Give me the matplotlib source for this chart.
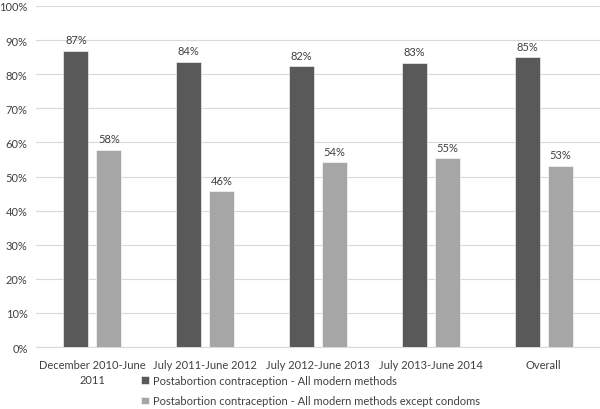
import numpy as np
import matplotlib.pyplot as plt

plt.rcParams['font.family'] = ['Lato', 'DejaVu Sans']

periods = ["December 2010-June\n2011", "July 2011-June 2012", "July 2012-June 2013",
           "July 2013-June 2014", "Overall"]
all_modern = [87, 84, 82, 83, 85]
except_condoms = [58, 46, 54, 55, 53]
heights_all = [86.8, 83.7, 82.3, 83.3, 84.9]
heights_exc = [57.8, 45.7, 54.2, 55.3, 53.2]
series_names = ["Postabortion contraception - All modern methods",
                "Postabortion contraception - All modern methods except condoms"]

fig = plt.figure(figsize=(6, 4.1), dpi=100)
ax = fig.add_axes([0.06, 0.151, 0.94, 0.832])

x = np.arange(len(periods))
w = 0.222
off = 0.146
b1 = ax.bar(x - off, heights_all, w, color='#595959', edgecolor='white', linewidth=0.4,
            label=series_names[0], zorder=3)
b2 = ax.bar(x + off, heights_exc, w, color='#a6a6a6', edgecolor='white', linewidth=0.4,
            label=series_names[1], zorder=3)

for bars, labs in ((b1, all_modern), (b2, except_condoms)):
    for b, v in zip(bars, labs):
        ax.annotate(f"{v}%", (b.get_x() + b.get_width() / 2, b.get_height()),
                    xytext=(0, 4), textcoords='offset points', ha='center', va='bottom',
                    fontsize=8, color='#404040')

ax.set_xlim(-0.5, len(periods) - 0.5)
ax.set_ylim(0, 100)
ax.set_yticks(range(0, 101, 10))
ax.set_yticklabels([f"{t}%" for t in range(0, 101, 10)])
ax.yaxis.grid(True, color='#d9d9d9', linewidth=0.8, zorder=0)
ax.set_xticks(x)
ax.set_xticklabels(periods, linespacing=1.45)
for s in ['top', 'right', 'left']:
    ax.spines[s].set_visible(False)
ax.spines['bottom'].set_color('#d9d9d9')
ax.tick_params(axis='both', length=0, labelsize=8, colors='#404040')
ax.tick_params(axis='x', pad=8.5)
ax.tick_params(axis='y', pad=6)

fig.legend(loc='upper left', bbox_to_anchor=(0.235, 0.083), ncol=1, frameon=False,
           fontsize=8, handlelength=0.7, handleheight=0.7, handletextpad=0.4,
           labelspacing=0.85, borderaxespad=0, borderpad=0, labelcolor='#404040')

fig.savefig('out.png', dpi=100)
